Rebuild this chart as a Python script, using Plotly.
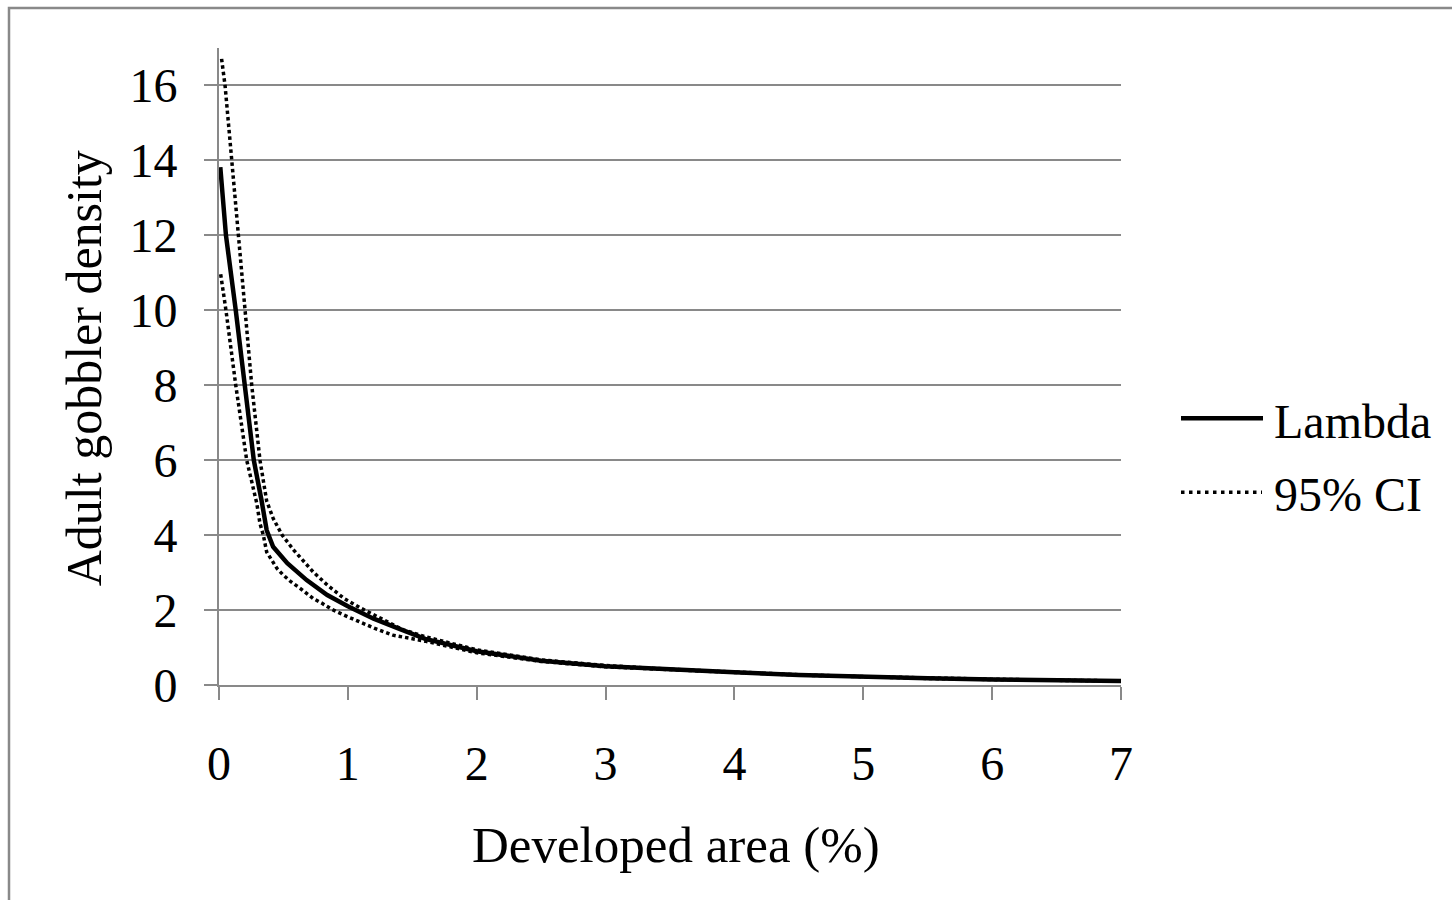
import plotly.graph_objects as go

# ---------------- data ----------------
lambda_x = [0.01, 0.033, 0.054, 0.13, 0.2, 0.27, 0.33, 0.37, 0.42, 0.53, 0.68, 0.84, 1.0, 1.2, 1.4,
            1.6, 2.0, 2.5, 3.0, 3.5, 4.0, 4.5, 5.0, 5.5, 6.0, 6.5, 7.0]
lambda_y = [13.82, 12.93, 12.0, 10.0, 8.0, 6.0, 4.93, 4.13, 3.69, 3.25, 2.8, 2.4, 2.1, 1.77, 1.5,
            1.23, 0.9, 0.65, 0.5, 0.41, 0.34, 0.27, 0.22, 0.18, 0.15, 0.13, 0.11]

upper_x = [0.02, 0.047, 0.099, 0.15, 0.2, 0.254, 0.318, 0.37, 0.42, 0.49, 0.58, 0.73, 0.84, 0.97,
           1.09, 1.28, 1.43, 1.6, 2.0, 2.5, 3.0, 3.5, 4.0, 4.5, 5.0, 5.5, 6.0, 6.5, 7.0]
upper_y = [16.71, 16.0, 14.0, 12.0, 10.0, 8.0, 6.0, 4.91, 4.45, 4.0, 3.6, 3.02, 2.67, 2.31,
           2.07, 1.73, 1.47, 1.29, 0.94, 0.67, 0.52, 0.42, 0.345, 0.275, 0.225, 0.185, 0.155, 0.13, 0.11]

lower_x = [0.013, 0.054, 0.13, 0.215, 0.293, 0.318, 0.344, 0.37, 0.41, 0.45, 0.5, 0.56, 0.63, 0.73,
           0.8, 0.875, 1.0, 1.21, 1.35, 1.6, 2.0, 2.5, 3.0, 3.5, 4.0, 4.5, 5.0, 5.5, 6.0, 6.5, 7.0]
lower_y = [10.96, 10.0, 8.0, 6.0, 4.85, 4.31, 4.0, 3.55, 3.33, 3.11, 2.93, 2.75, 2.58, 2.31,
           2.18, 2.02, 1.82, 1.51, 1.33, 1.17, 0.86, 0.63, 0.485, 0.4, 0.335, 0.265, 0.215, 0.175, 0.145, 0.125, 0.105]

series_names = ["Lambda", "95% CI"]
x_ticks = [0, 1, 2, 3, 4, 5, 6, 7]
y_ticks = [0, 2, 4, 6, 8, 10, 12, 14, 16]
x_title = "Developed area (%)"
y_title = "Adult gobbler density"

# ---------------- layout geometry ----------------
W, H = 1452, 900
L, R, T, B = 219, 1121, 47.5, 685  # plot area in px

def px(x):
    return (x - L) / (R - L)

def py(y):
    return (B - y) / (B - T)

FONT = "Liberation Serif, Times New Roman, serif"
GRAY = "#898989"
DOT = "3.5px,3px"

fig = go.Figure()
fig.add_trace(go.Scatter(x=lambda_x, y=lambda_y, mode="lines", name=series_names[0],
                         line=dict(color="black", width=4.5), showlegend=False))
fig.add_trace(go.Scatter(x=upper_x, y=upper_y, mode="lines", name=series_names[1],
                         line=dict(color="black", width=3.5, dash=DOT), showlegend=False))
fig.add_trace(go.Scatter(x=lower_x, y=lower_y, mode="lines", name=series_names[1],
                         line=dict(color="black", width=3.5, dash=DOT), showlegend=False))

fig.update_layout(
    width=W, height=H, autosize=False,
    margin=dict(l=L, r=W - R, t=T, b=H - B, pad=0),
    paper_bgcolor="white", plot_bgcolor="white",
    font=dict(family=FONT, size=48, color="black"),
    showlegend=False,
    xaxis=dict(range=[0, 7], tickvals=x_ticks, ticktext=[str(v) for v in x_ticks],
               showgrid=False, zeroline=False, showline=True, linecolor=GRAY, linewidth=2,
               ticks="outside", ticklen=13, tickwidth=2, tickcolor=GRAY,
               tickfont=dict(family=FONT, size=48, color="black"), ticklabelstandoff=22),
    yaxis=dict(range=[0, 17], tickvals=y_ticks, ticktext=[str(v) for v in y_ticks],
               showgrid=True, gridcolor=GRAY, gridwidth=2, zeroline=False,
               showline=True, linecolor=GRAY, linewidth=2,
               ticks="outside", ticklen=13, tickwidth=2, tickcolor=GRAY,
               tickfont=dict(family=FONT, size=48, color="black"), ticklabelstandoff=17),
)

# outer chart border (extends past right/bottom edges like the reference)
fig.add_shape(type="rect", xref="paper", yref="paper",
              x0=px(9), x1=px(1480), y0=py(930), y1=py(7.5),
              line=dict(color=GRAY, width=2.5), fillcolor="rgba(0,0,0,0)", layer="below")

# axis titles
fig.add_annotation(text=x_title, xref="paper", yref="paper", x=px(676), y=py(845),
                   xanchor="center", yanchor="middle", showarrow=False,
                   font=dict(family=FONT, size=51, color="black"))
fig.add_annotation(text=y_title, xref="paper", yref="paper", x=px(84), y=py(368),
                   xanchor="center", yanchor="middle", textangle=-90, showarrow=False,
                   font=dict(family=FONT, size=50, color="black"))

# legend (drawn manually to reproduce long line samples)
fig.add_shape(type="line", xref="paper", yref="paper", x0=px(1181), x1=px(1263),
              y0=py(418), y1=py(418), line=dict(color="black", width=4.5))
fig.add_shape(type="line", xref="paper", yref="paper", x0=px(1181), x1=px(1262),
              y0=py(492), y1=py(492), line=dict(color="black", width=3.5, dash="3.5px,4.5px"))
fig.add_annotation(text=series_names[0], xref="paper", yref="paper", x=px(1272), y=py(421),
                   xanchor="left", yanchor="middle", showarrow=False,
                   font=dict(family=FONT, size=48, color="black"))
fig.add_annotation(text=series_names[1], xref="paper", yref="paper", x=px(1272), y=py(494),
                   xanchor="left", yanchor="middle", showarrow=False,
                   font=dict(family=FONT, size=48, color="black"))

fig.write_html("out.html", config={"displayModeBar": False})
